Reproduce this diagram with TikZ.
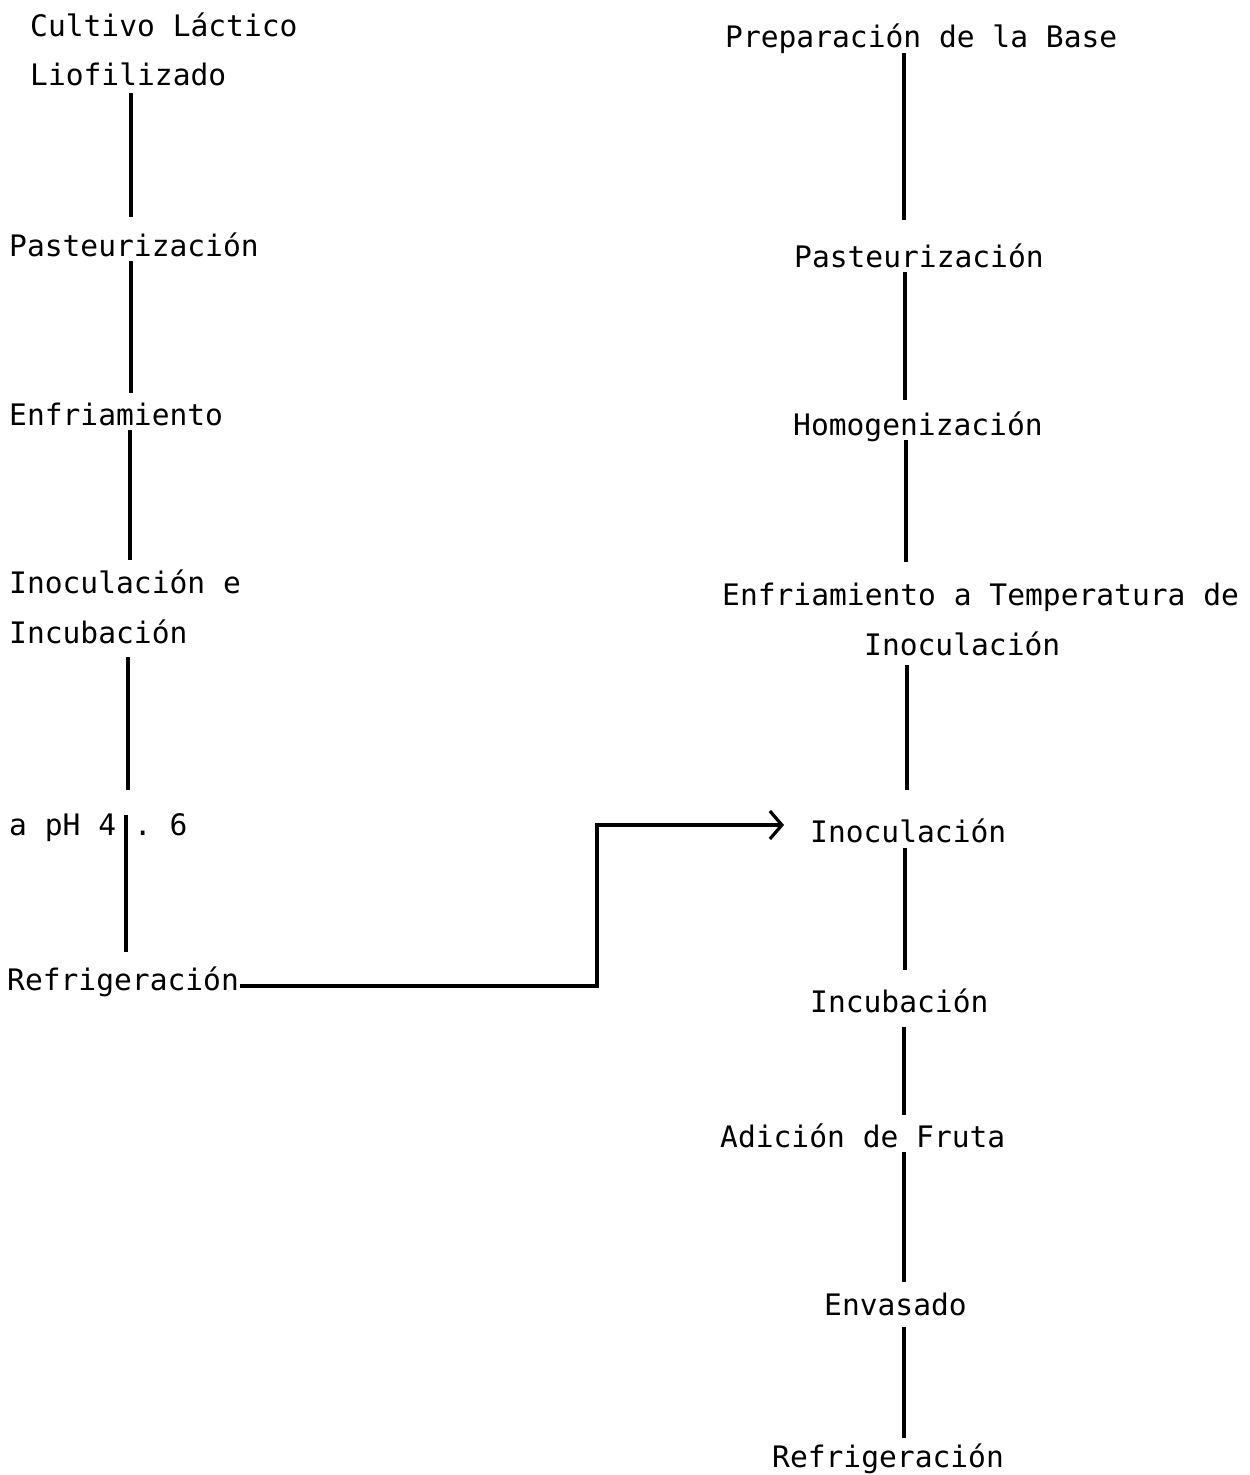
\documentclass[tikz,border=0pt]{standalone}
\usepackage{fontspec}
\setmonofont{DejaVu Sans Mono}
\usetikzlibrary{arrows.meta}
\tikzset{
  lbl/.style={anchor=base west,inner sep=0pt,font=\ttfamily\fontsize{29.6}{36}\selectfont},
  conn/.style={line width=3.2pt},
  arr/.style={line width=3.2pt,-{Straight Barb[length=12pt,width=28pt,line width=3.2pt]}}
}
\begin{document}
\begin{tikzpicture}[x=1pt,y=-1pt]
\useasboundingbox (0,0) rectangle (1250,1475);
% left column
\node[lbl] (L1) at (30,36) {Cultivo Láctico};
\node[lbl] (L2) at (30,85) {Liofilizado};
\node[lbl] (L3) at (9,256) {Pasteurización};
\node[lbl] (L4) at (9,425) {Enfriamiento};
\node[lbl] (L5) at (9,593) {Inoculación e};
\node[lbl] (L6) at (9,643) {Incubación};
\node[lbl] (L7) at (9,835) {a pH 4 . 6};
\node[lbl] (L8) at (7,990) {Refrigeración};
% right column
\node[lbl] (R1) at (725,47) {Preparación de la Base};
\node[lbl] (R2) at (794,267) {Pasteurización};
\node[lbl] (R3) at (793,435) {Homogenización};
\node[lbl] (R4) at (722,605) {Enfriamiento a Temperatura de};
\node[lbl] (R5) at (864,655) {Inoculación};
\node[lbl] (R6) at (810,842) {Inoculación};
\node[lbl] (R7) at (810,1012) {Incubación};
\node[lbl] (R8) at (720,1147) {Adición de Fruta};
\node[lbl] (R9) at (824,1315) {Envasado};
\node[lbl] (R10) at (772,1467) {Refrigeración};
% column x positions
\coordinate (a1) at (131,0);
\coordinate (a2) at (131,0);
\coordinate (a3) at (130,0);
\coordinate (a4) at (128,0);
\coordinate (a5) at (126,0);
\coordinate (b1) at (904,0);
\coordinate (b2) at (905,0);
\coordinate (b3) at (906,0);
\coordinate (b4) at (907,0);
\coordinate (b5) at (905,0);
\coordinate (b6) at (904,0);
\coordinate (b7) at (904,0);
\coordinate (b8) at (904,0);
% left connectors
\draw[conn] ([yshift=-8pt]L2.base -| a1) -- ([yshift=39pt]L3.base -| a1);
\draw[conn] ([yshift=-5pt]L3.base -| a2) -- ([yshift=32pt]L4.base -| a2);
\draw[conn] ([yshift=-5pt]L4.base -| a3) -- ([yshift=33pt]L5.base -| a3);
\draw[conn] ([yshift=-14pt]L6.base -| a4) -- ([yshift=45pt]L7.base -| a4);
\draw[conn] ([yshift=20pt]L7.base -| a5) -- ([yshift=38pt]L8.base -| a5);
% right connectors
\draw[conn] ([yshift=-6pt]R1.base -| b1) -- ([yshift=47pt]R2.base -| b1);
\draw[conn] ([yshift=-5pt]R2.base -| b2) -- ([yshift=35pt]R3.base -| b2);
\draw[conn] ([yshift=-5pt]R3.base -| b3) -- ([yshift=43pt]R4.base -| b3);
\draw[conn] ([yshift=-10pt]R5.base -| b4) -- ([yshift=52pt]R6.base -| b4);
\draw[conn] ([yshift=-6pt]R6.base -| b5) -- ([yshift=42pt]R7.base -| b5);
\draw[conn] ([yshift=-15pt]R7.base -| b6) -- ([yshift=32pt]R8.base -| b6);
\draw[conn] ([yshift=-5pt]R8.base -| b7) -- ([yshift=33pt]R9.base -| b7);
\draw[conn] ([yshift=-12pt]R9.base -| b8) -- ([yshift=29pt]R10.base -| b8);
% link from left Refrigeración to right Inoculación
\coordinate (cJ) at (597,825);
\coordinate (aEnd) at ([xshift=-26pt]R6.base west);
\draw[arr] ([xshift=1pt,yshift=4pt]L8.base east) -| (cJ) -- (aEnd |- cJ);
\end{tikzpicture}
\end{document}
